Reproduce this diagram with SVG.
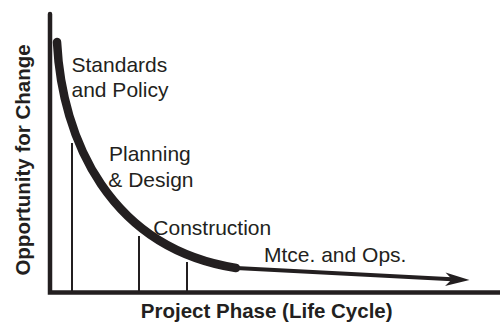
<svg xmlns="http://www.w3.org/2000/svg" width="500" height="322" viewBox="0 0 500 322">
<style>
.lbl{font-family:"Liberation Sans",Arial,sans-serif;font-size:21px;fill:#231f20}
.ax{font-family:"Liberation Sans",Arial,sans-serif;font-size:20.5px;font-weight:bold;fill:#231f20}
.axis{stroke:#231f20;stroke-width:4.5;fill:none;stroke-linecap:round;stroke-linejoin:miter}
.tick{stroke:#231f20;stroke-width:2;fill:none}
.curve{stroke:#231f20;stroke-width:8.5;fill:none;stroke-linecap:round}
.tail{stroke:#231f20;stroke-width:4;fill:none}
</style>
<rect width="500" height="322" fill="#fff"/>
<g id="connectors">
<path class="tick" d="M72,143V293M139,236V293M187,262V293"/>
<path class="curve" d="M57,42C62,140 110,248 236,268"/>
<path class="tail" d="M236,268L452,279.2"/>
<path d="M469.5,280L445.5,272.5L452,279.3L445,286Z" fill="#231f20"/>
<path class="axis" d="M50,14V292.5H500"/>
</g>
<g id="standards"><text class="lbl" x="71.5" y="72.3">Standards</text><text class="lbl" x="71.5" y="96.7">and Policy</text></g>
<g id="planning"><text class="lbl" x="109" y="160.7">Planning</text><text class="lbl" x="108.3" y="186.7">&amp; Design</text></g>
<g id="construction"><text class="lbl" x="153.3" y="235">Construction</text></g>
<g id="mtce"><text class="lbl" x="264" y="261.7">Mtce. and Ops.</text></g>
<g id="xlabel"><text class="ax" x="266.7" y="318.3" text-anchor="middle">Project Phase (Life Cycle)</text></g>
<g id="ylabel"><text class="ax" transform="translate(30,160) rotate(-90)" x="0" y="0" text-anchor="middle">Opportunity for Change</text></g>
</svg>
